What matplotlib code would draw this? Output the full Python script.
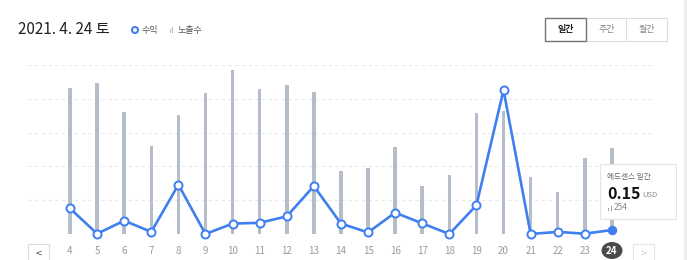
import matplotlib
matplotlib.use("Agg")
from matplotlib import pyplot as plt
from matplotlib.patches import Rectangle, Ellipse

plt.rcParams['font.family'] = ['Noto Sans CJK KR', 'DejaVu Sans']

days = [4, 5, 6, 7, 8, 9, 10, 11, 12, 13, 14, 15, 16, 17, 18, 19, 20, 21, 22, 23, 24]
impressions = [431, 446, 360, 260, 352, 416, 485, 428, 440, 421, 187,
               194, 258, 143, 176, 357, 364, 170, 124, 224, 254]
revenue = [0.96, 0.01, 0.50, 0.08, 1.85, 0.00, 0.39, 0.42, 0.66, 1.80, 0.39,
           0.06, 0.80, 0.40, 0.00, 1.08, 5.40, 0.00, 0.08, 0.01, 0.15]
tick_labels = [str(d) for d in days]
date_title = "2021. 4. 24 토"
period_buttons = ["일간", "주간", "월간"]

blue = "#3f7ff0"
bar_color = "#b5bec8"

fig = plt.figure(figsize=(6.87, 2.60), dpi=100)
W, H = 687.0, 260.0
tf = fig.transFigure

ax = fig.add_axes([28 / W, 26 / H, 627 / W, 169 / H])
ax.bar(days, impressions, width=0.13, color=bar_color, zorder=1)
ax.set_ylim(0, 500)
ax.set_xlim(2.45, 25.59)
for g in [100, 200, 300, 400, 500]:
    ax.axhline(g, color="#e6e8ea", lw=0.8, ls=(0, (3, 3)), zorder=0)
for s in ax.spines.values():
    s.set_visible(False)
ax.set_yticks([])
ax.set_xticks(days)
ax.set_xticklabels(tick_labels)
ax.tick_params(axis="x", length=0, pad=9, labelsize=7, labelcolor="#9a9a9a")
ax.get_xticklabels()[-1].set_color("white")
ax.get_xticklabels()[-1].set_fontweight("bold")

ax2 = ax.twinx()
ax2.set_ylim(0, 6.34)
ax2.set_yticks([])
for s in ax2.spines.values():
    s.set_visible(False)
ax2.plot(days, revenue, color=blue, lw=1.9, zorder=3, clip_on=False)
ax2.plot(days[:-1], revenue[:-1], 'o', ms=5.8, mfc="white", mec=blue, mew=1.4,
         zorder=4, clip_on=False)
ax2.plot(days[-1:], revenue[-1:], 'o', ms=5.8, mfc=blue, mec=blue, zorder=4, clip_on=False)

# dark badge behind the selected day label
fig.patches.append(Ellipse((612 / W, 1 - 250.5 / H), 21 / W, 17 / H, transform=tf,
                           facecolor="#4a4a4a", edgecolor="none", zorder=-1))

# header
fig.text(18 / W, 1 - 30 / H, date_title, fontsize=11, color="#222222", va="center")
fig.patches.append(Ellipse((135 / W, 1 - 30 / H), 6 / W, 6 / H, transform=tf,
                           facecolor="white", edgecolor=blue, lw=1.5))
fig.text(141 / W, 1 - 30 / H, "수익", fontsize=6.5, color="#555555", va="center")
fig.patches.append(Rectangle((170 / W, 1 - 33 / H), 1 / W, 4 / H, transform=tf,
                             facecolor=bar_color, edgecolor="none"))
fig.patches.append(Rectangle((172.5 / W, 1 - 33 / H), 1 / W, 6 / H, transform=tf,
                             facecolor=bar_color, edgecolor="none"))
fig.text(178 / W, 1 - 30 / H, "노출수", fontsize=6.5, color="#555555", va="center")

# period buttons
bx = [545, 586, 626]
for i, lbl in enumerate(period_buttons):
    fig.patches.append(Rectangle((bx[i] / W, 1 - 41 / H), 41 / W, 23 / H, transform=tf,
                                 facecolor="white", edgecolor="#dcdcdc", lw=0.8, zorder=1))
    fig.text((bx[i] + 20.5) / W, 1 - 29.5 / H, lbl, fontsize=6.5, ha="center", va="center",
             color="#222222" if i == 0 else "#888888", weight="bold" if i == 0 else "normal")
fig.patches.append(Rectangle((545 / W, 1 - 41 / H), 41 / W, 23 / H, transform=tf,
                             facecolor="none", edgecolor="#777777", lw=1.0, zorder=2))

# nav arrows
fig.patches.append(Rectangle((28 / W, 1 - 262 / H), 21 / W, 18 / H, transform=tf,
                             facecolor="white", edgecolor="#dddddd", lw=0.8))
fig.text(38.5 / W, 1 - 254 / H, "<", fontsize=8, ha="center", va="center", color="#555555")
fig.patches.append(Rectangle((633 / W, 1 - 262 / H), 21 / W, 18 / H, transform=tf,
                             facecolor="white", edgecolor="#e6e6e6", lw=0.8))
fig.text(643.5 / W, 1 - 254 / H, ">", fontsize=8, ha="center", va="center", color="#cccccc")

# tooltip
fig.patches.append(Rectangle((600 / W, 1 - 219 / H), 76 / W, 55 / H, transform=tf,
                             facecolor="white", edgecolor="#e4e4e4", lw=0.8, zorder=5))
fig.text(607 / W, 1 - 177 / H, "에드센스 일간", fontsize=5.5, color="#666666", va="center", zorder=6)
fig.text(607 / W, 1 - 194 / H, "0.15", fontsize=11.5, color="#111111", va="center",
         weight="bold", zorder=6)
fig.text(642 / W, 1 - 195 / H, "USD", fontsize=5.5, color="#888888", va="center", zorder=6)
fig.patches.append(Rectangle((608 / W, 1 - 211 / H), 1 / W, 3 / H, transform=tf,
                             facecolor="#9aa4ae", edgecolor="none", zorder=6))
fig.patches.append(Rectangle((610.5 / W, 1 - 211 / H), 1 / W, 5 / H, transform=tf,
                             facecolor="#9aa4ae", edgecolor="none", zorder=6))
fig.text(614 / W, 1 - 208 / H, "254", fontsize=6, color="#888888", va="center", zorder=6)

fig.patches.append(Rectangle((684 / W, 0), 3 / W, 1, transform=tf,
                             facecolor="#eeeeee", edgecolor="none"))

plt.savefig("out.png", dpi=100)
